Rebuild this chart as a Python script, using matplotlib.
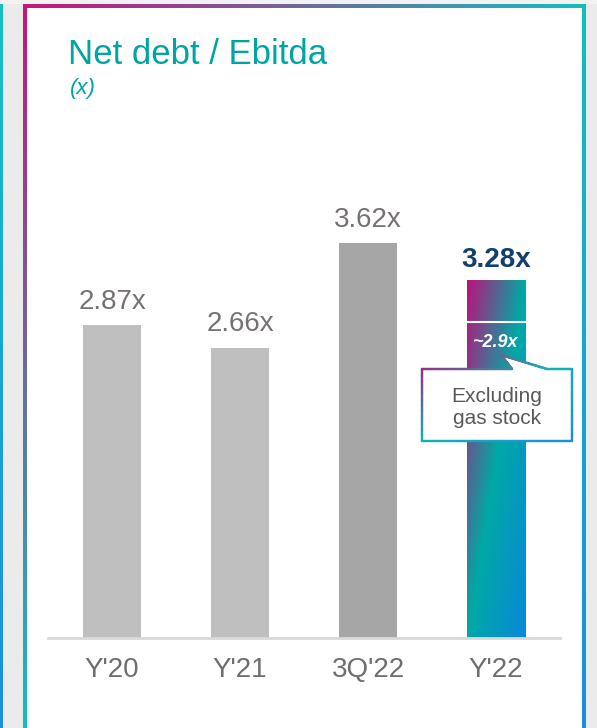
import numpy as np
import matplotlib
matplotlib.use("Agg")
import matplotlib.pyplot as plt
from matplotlib.colors import LinearSegmentedColormap
from matplotlib.collections import LineCollection
from matplotlib.patches import Polygon, Rectangle

plt.rcParams['font.family'] = ['Liberation Sans', 'DejaVu Sans']

# ---- data ----
categories = ["Y'20", "Y'21", "3Q'22", "Y'22"]
values = [2.87, 2.66, 3.62, 3.28]
value_labels = ["2.87x", "2.66x", "3.62x", "3.28x"]
bar_colors = ["#bfbfbf", "#bfbfbf", "#a6a6a6"]
excl_value = 2.9
excl_label = "~2.9x"
title = "Net debt / Ebitda"
subtitle = "(x)"
callout_lines = ["Excluding", "gas stock"]

W, H = 597, 728
fig = plt.figure(figsize=(W / 100, H / 100), dpi=100, facecolor="#ebebeb")

frame_cmap = LinearSegmentedColormap.from_list("fr", ["#c8157a", "#12bfbd", "#1b8ee0"])
bar_cmap = LinearSegmentedColormap.from_list("br", ["#bb127c", "#00a9a5", "#0a87da"])


def diag_grad(nx, ny, cmap):
    u = np.linspace(0, 1, nx)[None, :]
    v = np.linspace(0, 1, ny)[:, None]
    t = 0.5 * u + 0.5 * v
    return cmap(t)


# ---- background / frame (pixel coords) ----
bg = fig.add_axes([0, 0, 1, 1])
bg.set_xlim(0, W)
bg.set_ylim(H, 0)
bg.axis("off")
bg.set_zorder(0)
bg.add_patch(Rectangle((0, 0), W, 4, color="#f2f2f2", lw=0))
vgrad = LinearSegmentedColormap.from_list("v", ["#18c0c0", "#1b8ee0"])(np.linspace(0, 1, 200))[:, None, :]
bg.imshow(vgrad, extent=[0, 3, H, 0], aspect="auto", interpolation="bilinear")
bg.imshow(diag_grad(300, 300, frame_cmap), extent=[23, 586, 732, 4], aspect="auto",
          interpolation="bilinear")
bg.add_patch(Rectangle((27, 8), 555, 730, color="white", lw=0))
bg.set_xlim(0, W)
bg.set_ylim(H, 0)

# ---- chart ----
px_per_unit = 109.0
ymax = 4.5
ax = fig.add_axes([48 / W, 90 / H, 512 / W, ymax * px_per_unit / H])
ax.set_zorder(1)
ax.patch.set_alpha(0)
x = np.arange(len(categories))
bw = 0.46
ax.bar(x[:3], values[:3], width=bw, color=bar_colors, zorder=2)
ax.imshow(diag_grad(100, 400, bar_cmap),
          extent=[x[3] - bw / 2, x[3] + bw / 2, 0, values[3]],
          aspect="auto", interpolation="bilinear", zorder=2)
ax.plot([x[3] - bw / 2, x[3] + bw / 2], [excl_value, excl_value], color="white", lw=1.5, zorder=3)
ax.set_xlim(-0.5, 3.5)
ax.set_ylim(0, ymax)

for i in range(3):
    ax.annotate(value_labels[i], (x[i], values[i]), xytext=(0, 12), textcoords="offset points",
                ha="center", va="baseline", fontsize=20, color="#767171")
ax.annotate(value_labels[3], (x[3], values[3]), xytext=(0, 9.5), textcoords="offset points",
            ha="center", va="baseline", fontsize=20, color="#123f6c", fontweight="bold")
ax.annotate(excl_label, (x[3], excl_value), xytext=(0, -18), textcoords="offset points",
            ha="center", va="baseline", fontsize=13, color="white", fontweight="bold",
            fontstyle="italic")

for s in ["top", "left", "right"]:
    ax.spines[s].set_visible(False)
ax.spines["bottom"].set_color("#d9d9d9")
ax.spines["bottom"].set_linewidth(2)
ax.set_yticks([])
ax.set_xticks(x)
ax.set_xticklabels(categories, fontsize=20, color="#6e6e6e")
ax.tick_params(axis="x", length=0, pad=13.5)

# ---- callout overlay ----
ov = fig.add_axes([0, 0, 1, 1])
ov.set_zorder(2)
ov.patch.set_alpha(0)
ov.set_xlim(0, W)
ov.set_ylim(H, 0)
ov.axis("off")
pts = np.array([(422, 369), (512, 369), (501, 355), (547, 369), (572, 369),
                (572, 441), (422, 441), (422, 369)], dtype=float)
ov.add_patch(Polygon(pts[:-1], closed=True, facecolor="white", edgecolor="none"))
segs, cols = [], []
x0, x1, y0, y1 = 422, 572, 355, 441
ccmap = LinearSegmentedColormap.from_list("c", ["#b0197f", "#12b3b3", "#1b8ee0"])
for a, b in zip(pts[:-1], pts[1:]):
    n = 60
    for k in range(n):
        p = a + (b - a) * k / n
        q = a + (b - a) * (k + 1) / n
        segs.append([p, q])
        m = (p + q) / 2
        t = 0.5 * (m[0] - x0) / (x1 - x0) + 0.5 * (m[1] - y0) / (y1 - y0)
        cols.append(ccmap(t))
ov.add_collection(LineCollection(segs, colors=cols, linewidths=1.7, capstyle="round"))
ov.text(497, 402, callout_lines[0], ha="center", va="baseline", fontsize=15, color="#595959")
ov.text(497, 423.5, callout_lines[1], ha="center", va="baseline", fontsize=15, color="#595959")

# ---- titles ----
fig.text(68 / W, 1 - 64 / H, title, fontsize=25, color="#00a5a3", va="baseline", ha="left")
fig.text(70 / W, 1 - 94 / H, subtitle, fontsize=16, color="#00a5a3", va="baseline", ha="left",
         fontstyle="italic")

fig.savefig("out.png", dpi=100, facecolor=fig.get_facecolor())
